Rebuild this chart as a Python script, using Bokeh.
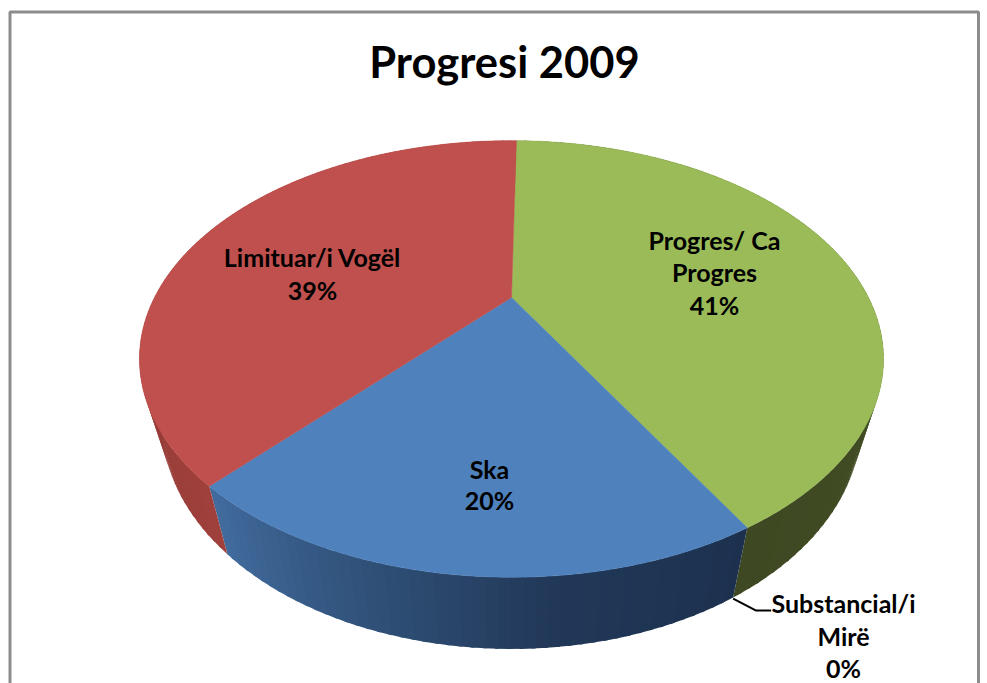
from math import sin, cos, radians
from bokeh.plotting import figure
from bokeh.models import Range1d
from bokeh.core.properties import value
from bokeh.embed import file_html
from bokeh.resources import INLINE

# ---- data ----
categories = ["Progres/ Ca Progres", "Substancial/i Mirë", "Ska", "Limituar/i Vogël"]
shares = [41.4, 0, 20.0, 38.6]
title_text = "Progresi 2009"
top_colors = ["#9BBB59", "#4F81BD", "#4F81BD", "#C0504D"]
# side shade stops: (fraction along the slice, colour)
side_stops = [
    [(0.0, (74, 90, 44)), (1.0, (62, 72, 34))],
    [(0.0, (30, 50, 80)), (1.0, (30, 50, 80))],
    [(0.0, (29, 49, 79)), (0.35, (33, 56, 88)), (0.7, (50, 84, 125)), (1.0, (66, 108, 158))],
    [(0.0, (160, 64, 60)), (0.2, (150, 60, 56)), (1.0, (150, 60, 56))],
]
label_lines = [
    (714, [(239, "Progres/ Ca"), (271, "Progres"), (304, "41%")]),
    (843, [(602, "Substancial/i"), (635, "Mirë"), (667, "0%")]),
    (489, [(468, "Ska"), (499, "20%")]),
    (312, [(256, "Limituar/i Vogël"), (289, "39%")]),
]

W, H = 987, 683
CX, CY, A, B, K, START = 511.0, 297.0, 357.0, 201.0, 0.2815, 1.0
SX, SY, DY = 0.94, 1.04, 60.5


def top_pt(deg):
    t = radians(deg)
    den = 1 + K * cos(t)
    return CX + A * sin(t) / den, CY - B * cos(t) / den


def low_pt(deg):
    x, y = top_pt(deg)
    return CX + SX * (x - CX), CY + DY + SY * (y - CY)


def shade(stops, f):
    for (f0, c0), (f1, c1) in zip(stops, stops[1:]):
        if f <= f1:
            u = (f - f0) / (f1 - f0) if f1 > f0 else 0
            return "#%02x%02x%02x" % tuple(round(a + (b - a) * u) for a, b in zip(c0, c1))
    return "#%02x%02x%02x" % stops[-1][1]


p = figure(width=W, height=H, x_range=Range1d(0, W), y_range=Range1d(H, 0),
           x_axis_type=None, y_axis_type=None, toolbar_location=None,
           output_backend="svg", min_border=0, outline_line_color=None,
           background_fill_color="white", border_fill_color="white")
p.grid.visible = False

total = sum(shares)
side_xs, side_ys, side_cols = [], [], []
wedges = []
a0 = START
for share, col, stops in zip(shares, top_colors, side_stops):
    a1 = a0 + 360.0 * share / total
    wedges.append((a0, a1, col))
    n = max(int((a1 - a0) / 1.5), 1) if share else 0
    for i in range(n):
        d0 = a0 + (a1 - a0) * i / n
        d1 = a0 + (a1 - a0) * (i + 1) / n
        if i < n - 1:
            d1 += 0.5  # overlap the next strip so no seam shows
        u0, u1, l0, l1 = top_pt(d0), top_pt(d1), low_pt(d1), low_pt(d0)
        side_xs.append([u0[0], u1[0], l0[0], l1[0]])
        side_ys.append([u0[1], u1[1], l0[1], l1[1]])
        side_cols.append(shade(stops, (i + 0.5) / n))
    a0 = a1

p.patches(side_xs, side_ys, fill_color=side_cols, line_color=None)

for a0, a1, col in wedges:
    if a1 <= a0:
        continue
    n = max(int(a1 - a0), 2)
    pts = [top_pt(a0 + (a1 - a0) * i / n) for i in range(n + 1)]
    p.patch([CX] + [q[0] for q in pts], [CY] + [q[1] for q in pts],
            fill_color=col, line_color=col, line_width=0.5)

# chart frame (open at the bottom)
p.line([9.5, 9.5, 978, 978], [H, 11.5, 11.5, H], line_color="#8C8C8C", line_width=3)

# leader line of the zero slice
zero_angle = wedges[1][0]
lx, ly = low_pt(zero_angle)
p.line([lx, lx + 23, lx + 38], [ly + 1, ly + 13, ly + 13], line_color="black", line_width=2)

p.text([504], [60], text=[title_text], text_font=value("Lato"), text_font_style="bold",
       text_font_size="43.5px", text_align="center", text_baseline="middle", text_color="black")
for x, lines in label_lines:
    for y, s in lines:
        p.text([x], [y], text=[s], text_font=value("Lato"), text_font_style="bold",
               text_font_size="25px", text_align="center", text_baseline="middle", text_color="black")

open("out.html", "w").write(file_html(p, INLINE))
